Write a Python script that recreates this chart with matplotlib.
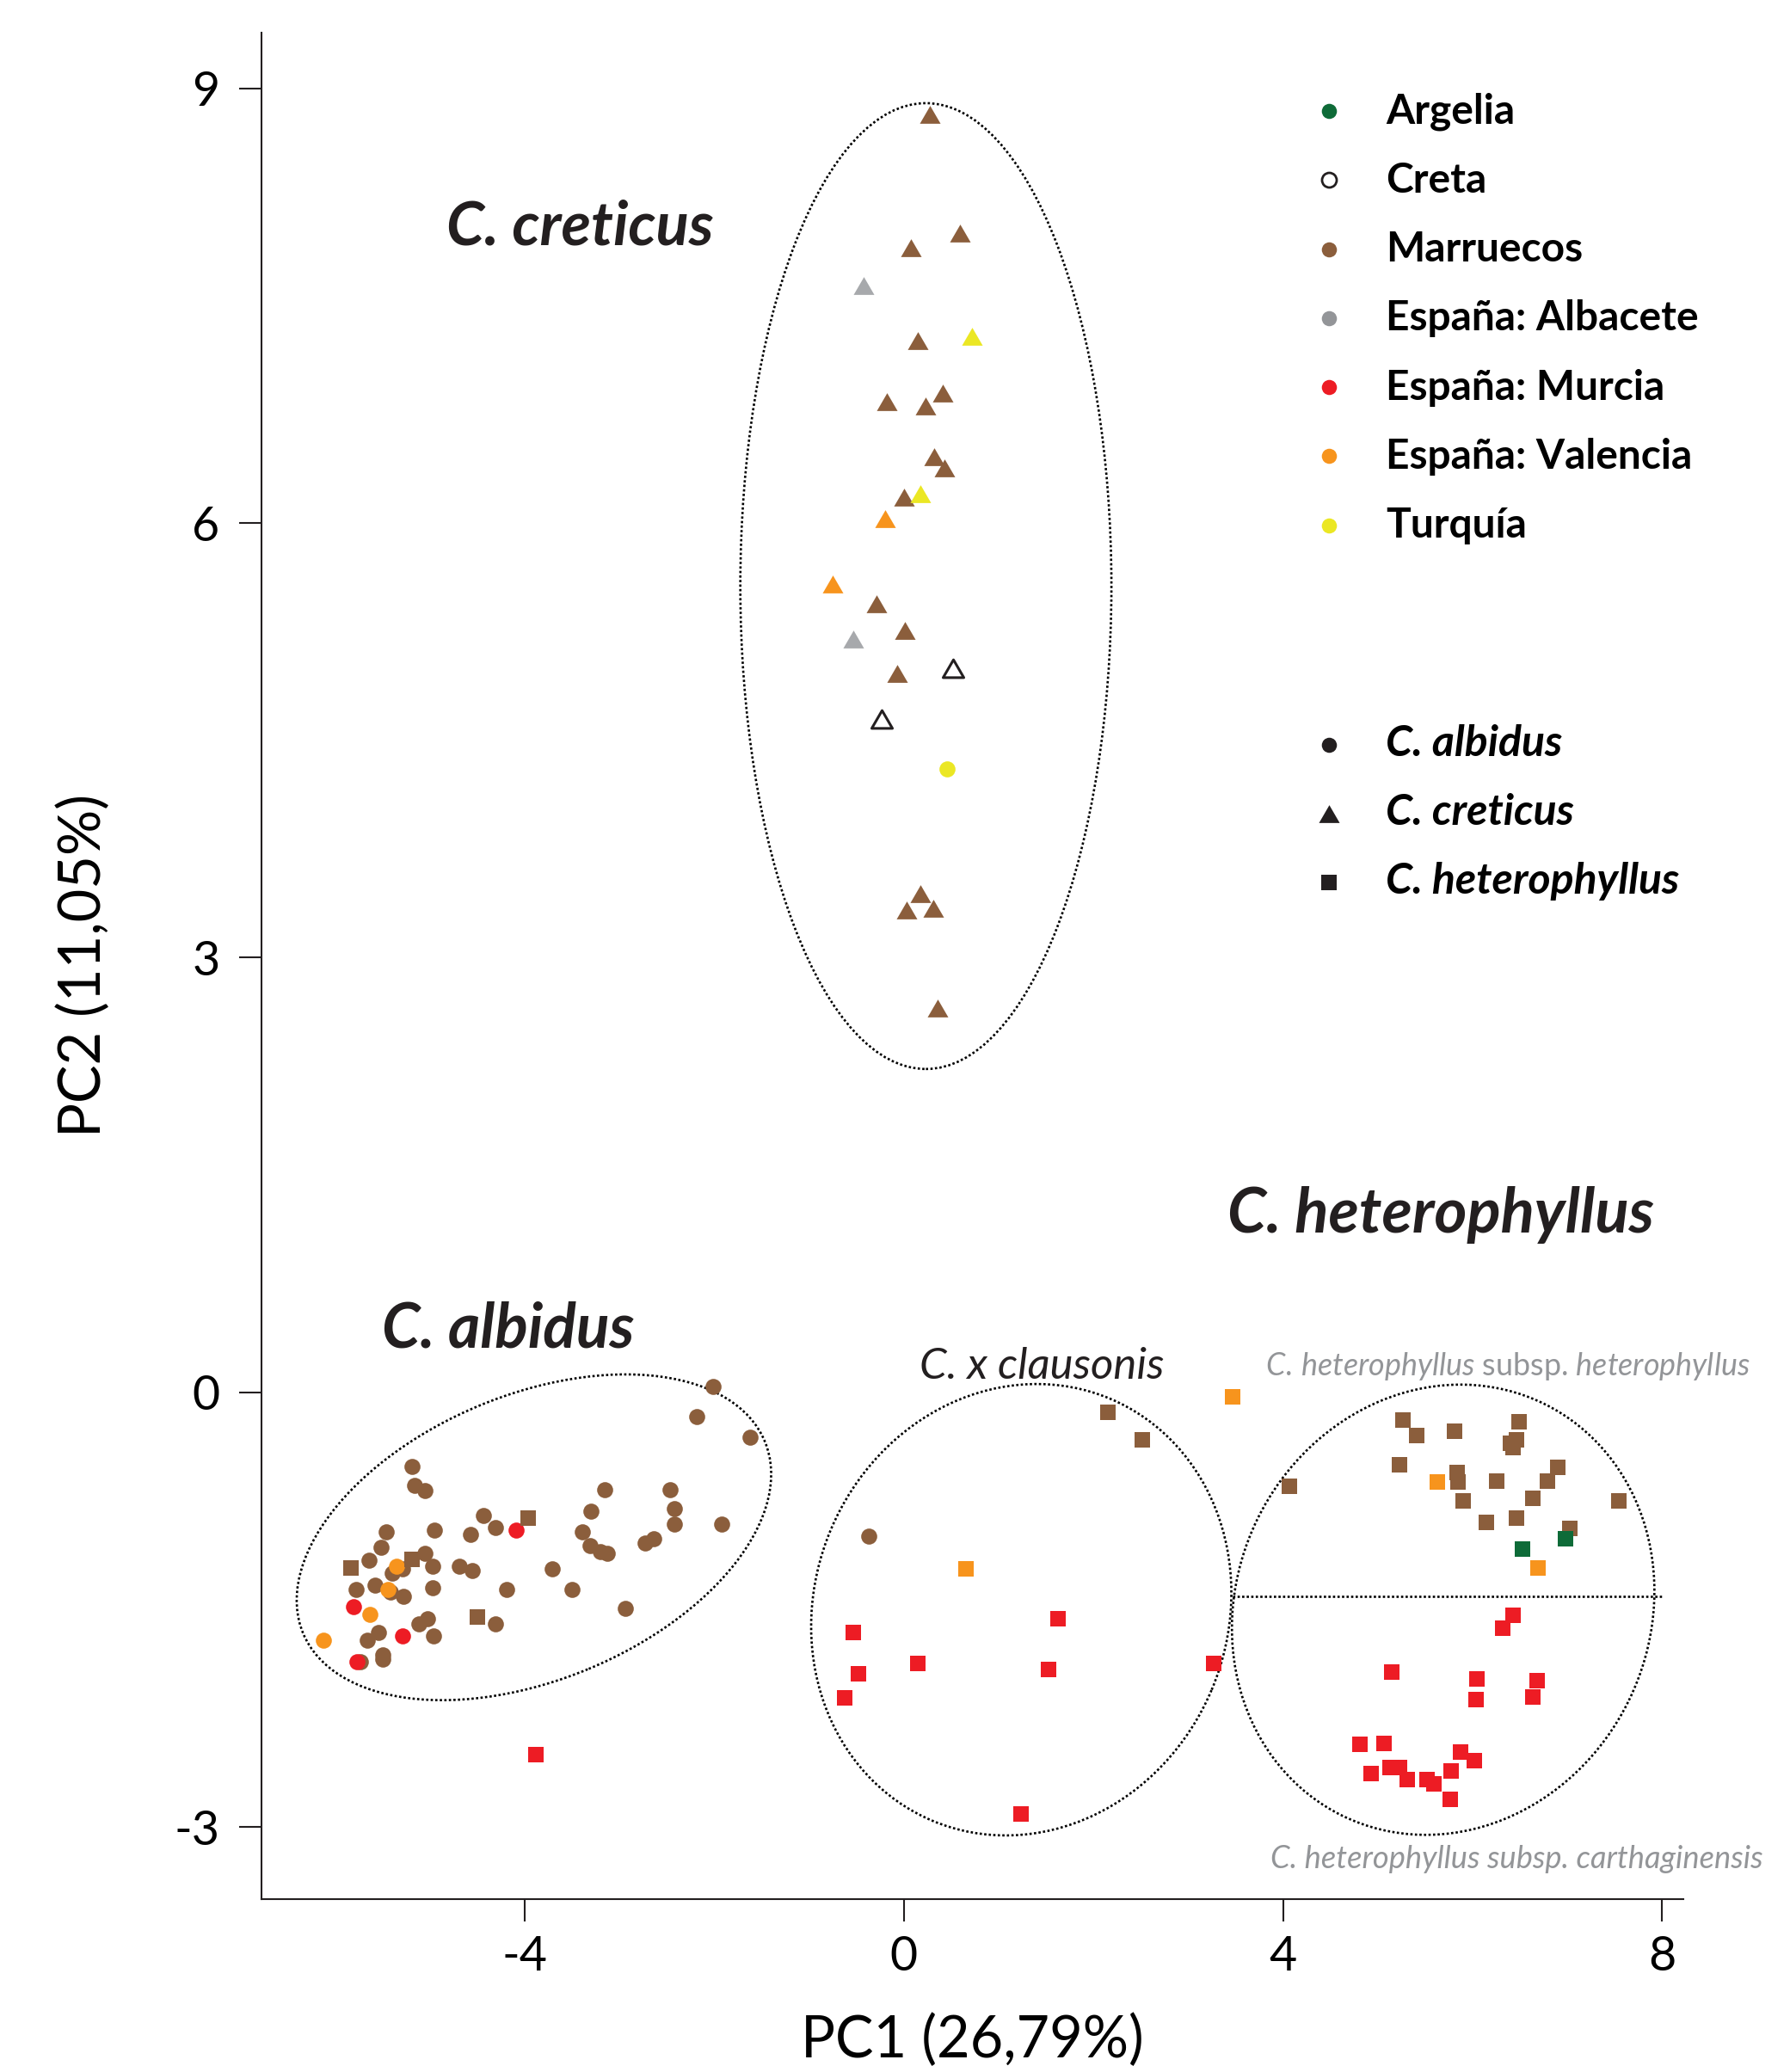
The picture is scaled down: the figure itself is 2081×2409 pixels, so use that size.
import matplotlib
matplotlib.use('Agg')
import matplotlib.pyplot as plt
from matplotlib.patches import Ellipse
from matplotlib.path import Path
from matplotlib.transforms import Affine2D

plt.rcParams['font.family'] = ['Lato', 'DejaVu Sans']
plt.rcParams['axes.unicode_minus'] = False
plt.rcParams['mathtext.fontset'] = 'custom'
plt.rcParams['mathtext.it'] = 'Lato:italic'
plt.rcParams['mathtext.rm'] = 'Lato'

# --- datos (PC1, PC2) ---
# C. albidus (circulos)
alb_mar_x = [-2.01, -2.18, -1.62, -5.19, -5.16, -5.05, -3.15, -2.46, -2.42, -2.42, -1.92,
             -3.30, -3.39, -3.31, -3.13, -3.20, -2.64, -2.73, -2.94, -3.50, -3.71, -4.19,
             -4.31, -4.43, -4.31, -4.57, -4.69, -4.55, -4.95, -4.97, -5.05, -4.97, -5.46,
             -5.51, -5.64, -5.39, -5.29, -5.58, -5.78, -5.41, -5.28, -5.02, -5.11, -4.96,
             -5.54, -5.66, -5.49, -5.49, -5.73, -0.37]
alb_mar_y = [0.04, -0.17, -0.31, -0.51, -0.64, -0.68, -0.67, -0.67, -0.80, -0.91, -0.91,
             -0.82, -0.96, -1.06, -1.11, -1.10, -1.01, -1.04, -1.49, -1.36, -1.22, -1.36,
             -1.60, -0.85, -0.93, -0.98, -1.20, -1.23, -0.95, -1.20, -1.11, -1.35, -0.96,
             -1.07, -1.16, -1.25, -1.22, -1.33, -1.36, -1.38, -1.41, -1.56, -1.60, -1.68,
             -1.66, -1.71, -1.81, -1.84, -1.86, -0.99]
alb_val_x = [-5.35, -5.44, -5.63, -6.12]
alb_val_y = [-1.20, -1.36, -1.53, -1.71]
alb_mur_x = [-4.09, -5.80, -5.29, -5.77]
alb_mur_y = [-0.95, -1.48, -1.68, -1.86]
alb_tur_x = [0.46]
alb_tur_y = [4.30]

# C. creticus (triangulos)
cre_mar_x = [0.28, 0.59, 0.08, 0.15, -0.18, 0.41, 0.23, 0.32, 0.43, 0.00, -0.29, 0.01,
             -0.07, 0.18, 0.03, 0.31, 0.36]
cre_mar_y = [8.82, 8.00, 7.90, 7.26, 6.84, 6.90, 6.81, 6.46, 6.38, 6.18, 5.44, 5.26,
             4.96, 3.44, 3.33, 3.34, 2.65]
cre_alb_x = [-0.42, -0.53]
cre_alb_y = [7.64, 5.20]
cre_tur_x = [0.72, 0.18]
cre_tur_y = [7.29, 6.20]
cre_val_x = [-0.20, -0.75]
cre_val_y = [6.03, 5.58]
cre_creta_x = [0.52, -0.23]
cre_creta_y = [5.00, 4.65]

# C. heterophyllus (cuadrados)
het_mar_x = [-5.83, -5.19, -3.96, -4.50, 2.15, 2.52, 4.07, 5.27, 5.41, 5.81, 6.49, 6.46,
             6.40, 6.43, 5.23, 5.84, 5.85, 5.90, 6.25, 6.90, 6.79, 6.64, 6.15, 6.46, 7.54, 7.03]
het_mar_y = [-1.21, -1.15, -0.87, -1.55, -0.14, -0.33, -0.65, -0.19, -0.30, -0.27, -0.20, -0.33,
             -0.35, -0.38, -0.50, -0.55, -0.62, -0.75, -0.61, -0.52, -0.61, -0.73, -0.90, -0.87,
             -0.75, -0.94]
het_val_x = [0.66, 3.47, 5.63, 6.69]
het_val_y = [-1.22, -0.03, -0.62, -1.21]
het_arg_x = [6.53, 6.98]
het_arg_y = [-1.08, -1.01]
het_mur_x = [-3.88, 1.63, -0.53, 0.15, 1.53, -0.48, -0.62, 3.27, 1.24, 6.43, 6.32, 5.15,
             6.05, 6.04, 6.68, 6.64, 4.81, 5.07, 5.87, 6.02, 4.93, 5.13, 5.23, 5.31, 5.52,
             5.59, 5.77, 5.76]
het_mur_y = [-2.50, -1.56, -1.66, -1.87, -1.91, -1.94, -2.11, -1.87, -2.91, -1.54, -1.63, -1.93,
             -1.98, -2.12, -1.99, -2.10, -2.43, -2.42, -2.48, -2.54, -2.63, -2.59, -2.59, -2.67,
             -2.67, -2.70, -2.61, -2.81]

origenes = ['Argelia', 'Creta', 'Marruecos', 'España: Albacete', 'España: Murcia',
            'España: Valencia', 'Turquía']
especies = ['C. albidus', 'C. creticus', 'C. heterophyllus']
xticks = [-4, 0, 4, 8]
yticks = [-3, 0, 3, 6, 9]

# colores
VERDE = '#0E6B38'
MARRON = '#8B5E3C'
GRIS = '#A7A9AC'
ROJO = '#ED1C24'
NARANJA = '#F7941D'
AMARILLO = '#EBE724'
NEGRO = '#231F20'
col_origen = [VERDE, 'white', MARRON, '#939598', ROJO, NARANJA, AMARILLO]

# triangulo algo mas ancho que alto
tri = Path([(0, 1), (-1.16, -1), (1.16, -1), (0, 1)],
           [Path.MOVETO, Path.LINETO, Path.LINETO, Path.CLOSEPOLY])

S_CIR = 180
S_CUA = 187
S_TRI = 300

fig = plt.figure(figsize=(20.81, 24.09), dpi=100)
ax = fig.add_axes([0.1459, 0.0836, 0.7944, 0.9006])
ax.set_xlim(-6.777, 8.221)
ax.set_ylim(-3.495, 9.384)

# circulos
ax.scatter(alb_mar_x, alb_mar_y, s=S_CIR, c=MARRON, marker='o', linewidths=0, zorder=3)
ax.scatter(alb_val_x, alb_val_y, s=S_CIR, c=NARANJA, marker='o', linewidths=0, zorder=3)
ax.scatter(alb_mur_x, alb_mur_y, s=S_CIR, c=ROJO, marker='o', linewidths=0, zorder=3)
ax.scatter(alb_tur_x, alb_tur_y, s=S_CIR, c=AMARILLO, marker='o', linewidths=0, zorder=3)
# triangulos
ax.scatter(cre_mar_x, cre_mar_y, s=S_TRI, c=MARRON, marker=tri, linewidths=0, zorder=3)
ax.scatter(cre_alb_x, cre_alb_y, s=S_TRI, c=GRIS, marker=tri, linewidths=0, zorder=3)
ax.scatter(cre_tur_x, cre_tur_y, s=S_TRI, c=AMARILLO, marker=tri, linewidths=0, zorder=3)
ax.scatter(cre_val_x, cre_val_y, s=S_TRI, c=NARANJA, marker=tri, linewidths=0, zorder=3)
ax.scatter(cre_creta_x, cre_creta_y, s=S_TRI, facecolors='white', edgecolors=NEGRO,
           marker=tri, linewidths=2.2, zorder=3)
# cuadrados
ax.scatter(het_mar_x, het_mar_y, s=S_CUA, c=MARRON, marker='s', linewidths=0, zorder=3)
ax.scatter(het_val_x, het_val_y, s=S_CUA, c=NARANJA, marker='s', linewidths=0, zorder=4)
ax.scatter(het_arg_x, het_arg_y, s=S_CUA, c=VERDE, marker='s', linewidths=0, zorder=4)
ax.scatter(het_mur_x, het_mur_y, s=S_CUA, c=ROJO, marker='s', linewidths=0, zorder=4)

# elipses punteadas (en unidades isotropas: y escalado por r)
r = 168.5 / 110.2
iso = Affine2D().scale(1, 1 / r) + ax.transData
punteado = dict(fill=False, edgecolor='black', linewidth=1.9, linestyle=(0, (1, 1.0)), zorder=2)
ax.add_patch(Ellipse((0.234, 5.565 * r), 2 * 1.957, 2 * 3.333 * r, angle=0, transform=iso, **punteado))
ax.add_patch(Ellipse((-3.90, -1.00 * r), 2 * 2.637, 2 * 1.504, angle=22.6, transform=iso, **punteado))
ax.add_patch(Ellipse((1.24, -1.50 * r), 2 * 2.416, 2 * 2.179, angle=67.2, transform=iso, **punteado))
ax.add_patch(Ellipse((5.69, -1.50 * r), 2 * 2.42, 2 * 2.18, angle=64.0, transform=iso, **punteado))
ax.plot([3.47, 8.0], [-1.41, -1.41], color='black', lw=1.9, ls=(0, (1, 1.0)), zorder=2)

# ejes
for lado in ['top', 'right']:
    ax.spines[lado].set_visible(False)
for lado in ['left', 'bottom']:
    ax.spines[lado].set_linewidth(1.5)
    ax.spines[lado].set_color(NEGRO)
ax.set_xticks(xticks)
ax.set_yticks(yticks)
ax.set_xticklabels([str(t) for t in xticks])
ax.set_yticklabels([str(t) for t in yticks])
ax.tick_params(axis='both', direction='out', length=18.7, width=1.5, color=NEGRO, labelsize=40)
ax.tick_params(axis='y', pad=16)
ax.tick_params(axis='x', pad=12)

fig.text(1130 / 2081, 1 - 2392 / 2409, 'PC1 (26,79%)', fontsize=48, ha='center', va='baseline')
fig.text(98 / 2081, 1 - 1123 / 2409, 'PC2 (11,05%)', fontsize=48, ha='center', va='center',
         rotation=90)

# titulos de grupos
ax.text(-4.823, 7.924, 'C. creticus', fontsize=51, fontweight='bold', fontstyle='italic',
        color=NEGRO, ha='left', va='baseline')
ax.text(-5.504, 0.310, 'C. albidus', fontsize=51.5, fontweight='bold', fontstyle='italic',
        color=NEGRO, ha='left', va='baseline')
ax.text(3.417, 1.105, 'C. heterophyllus', fontsize=52.3, fontweight='bold', fontstyle='italic',
        color=NEGRO, ha='left', va='baseline')
ax.text(0.171, 0.093, 'C. x clausonis', fontsize=36.6, fontstyle='italic', color=NEGRO,
        ha='left', va='baseline')
ax.text(3.815, 0.120, r'$\mathit{C.\,heterophyllus}$ subsp. $\mathit{heterophyllus}$',
        fontsize=25.8, color='#939598', ha='left', va='baseline', clip_on=False)
ax.text(3.870, -3.281, 'C. heterophyllus subsp. carthaginensis', fontsize=26.1,
        fontstyle='italic', color='#939598', ha='left', va='baseline', clip_on=False)

# leyenda manual
mx, tx = 0.7510, 0.7908
paso = 0.03699
y0 = 0.9580
for i, (nom, col) in enumerate(zip(origenes, col_origen)):
    yy = y0 - i * paso
    if nom == 'Creta':
        ax.scatter([mx], [yy], s=150, facecolors='white', edgecolors=NEGRO, linewidths=2,
                   transform=ax.transAxes, clip_on=False)
    else:
        ax.scatter([mx], [yy], s=160, c=col, linewidths=0, transform=ax.transAxes,
                   clip_on=False)
    ax.text(tx, yy - 0.0067, nom, fontsize=34.5, fontweight='bold', ha='left', va='baseline',
            transform=ax.transAxes)

y1 = 0.6185
marcas = ['o', tri, 's']
tams = [160, S_TRI, S_CUA]
for i, (nom, m, s) in enumerate(zip(especies, marcas, tams)):
    yy = y1 - i * paso
    ax.scatter([mx], [yy], s=s, c=NEGRO, marker=m, linewidths=0, transform=ax.transAxes,
               clip_on=False)
    ax.text(tx, yy - 0.006, nom, fontsize=36, fontweight='bold', fontstyle='italic',
            ha='left', va='baseline', transform=ax.transAxes)

fig.savefig('out.png', dpi=100)
